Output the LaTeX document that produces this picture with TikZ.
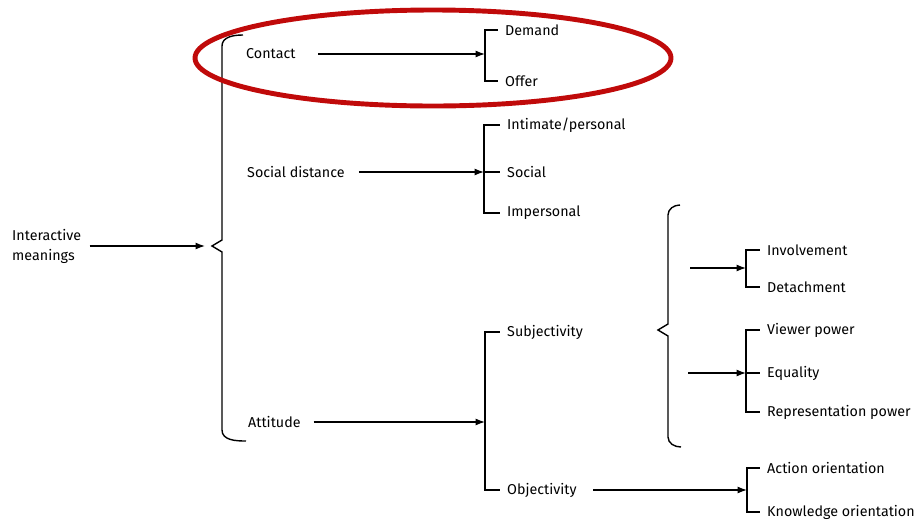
\documentclass[tikz,border=0pt]{standalone}
\usepackage{fontspec}
\setmainfont{Fira Sans}
\usetikzlibrary{arrows.meta}
\usetikzlibrary{calc}
\definecolor{ringred}{RGB}{192,10,10}
\tikzset{term/.style={anchor=west,inner sep=0pt,font=\fontsize{12.2}{14}\selectfont}}

\begin{document}
\begin{tikzpicture}[x=0.03cm,y=-0.03cm]
\tikzset{feed/.style={-{Latex[length=8pt,width=6pt]},line width=1.2pt}}
\tikzset{fork/.style={line width=1.2pt}}
\useasboundingbox (0,0) rectangle (915,521);

% left column
\node[term,align=left,font=\fontsize{12.2}{17}\selectfont] (im) at (12,246) {Interactive\\meanings};
\node[term] (con) at (246,54) {Contact};
\node[term] (sd) at (247,172) {Social distance};
\node[term] (att) at (248,422) {Attitude};

% big brace
\coordinate (btip) at (212,246);
\draw[fork] (243,35) to[out=180,in=90] (222,46) -- (222,240) -- (btip) -- (222,252) -- (222,430) to[out=-90,in=180] (246,441);
\draw[feed,shorten <=7pt,shorten >=6pt] (im.east) -- (btip);

% contact
\node[term] (dem) at (505,30) {Demand};
\node[term] (off) at (505,81) {Offer};
\coordinate (cspine) at (485,54);
\draw[fork] ([xshift=-6pt]dem.west) -| (cspine) |- ([xshift=-6pt]off.west);
\draw[feed,shorten <=19pt] (con.east) -- (cspine);

% social distance
\node[term] (int) at (507,125) {Intimate/personal};
\node[term] (soc) at (507,172) {Social};
\node[term] (imp) at (507,213) {Impersonal};
\coordinate (sspine) at (484,172);
\draw[fork] ([xshift=-6pt]int.west) -| (sspine) |- ([xshift=-6pt]imp.west);
\draw[fork] (sspine) -- ([xshift=-6pt]soc.west);
\draw[feed,shorten <=12pt] (sd.east) -- (sspine);

% attitude
\node[term] (subj) at (507,332) {Subjectivity};
\node[term] (obj) at (507,490) {Objectivity};
\coordinate (aspine) at (485,422);
\draw[fork] ([xshift=-6pt]subj.west) -| (aspine) |- ([xshift=-6pt]obj.west);
\draw[feed,shorten <=11pt] (att.east) -- (aspine);

% subjectivity brace
\coordinate (stip) at (658,330);
\draw[fork] (680,205) to[out=180,in=90] (668,215) -- (668,324) -- (stip) -- (668,336) -- (668,437) to[out=-90,in=180] (681,447);

\node[term] (inv) at (767,250) {Involvement};
\node[term] (det) at (767,287) {Detachment};
\coordinate (ispine) at (746,268);
\coordinate (istart) at (690,268);
\draw[fork] ([xshift=-6pt]inv.west) -| (ispine) |- ([xshift=-6pt]det.west);
\draw[feed] (istart) -- (ispine);

\node[term] (vp) at (767,330) {Viewer power};
\node[term] (eq) at (767,373) {Equality};
\node[term] (rp) at (767,412) {Representation power};
\coordinate (vspine) at (746,373);
\coordinate (vstart) at (688,373);
\draw[fork] ([xshift=-6pt]vp.west) -| (vspine) |- ([xshift=-6pt]rp.west);
\draw[fork] (vspine) -- ([xshift=-6pt]eq.west);
\draw[feed] (vstart) -- (vspine);

% objectivity
\node[term] (act) at (767,468) {Action orientation};
\node[term] (kno) at (767,512) {Knowledge orientation};
\coordinate (ospine) at (747,490);
\draw[fork] ([xshift=-6pt]act.west) -| (ospine) |- ([xshift=-6pt]kno.west);
\draw[feed,shorten <=14pt] (obj.east) -- (ospine);

% highlight
\draw[ringred,line width=4.2pt] (433,58) ellipse [x radius=7.14cm,y radius=1.44cm];
\end{tikzpicture}
\end{document}
